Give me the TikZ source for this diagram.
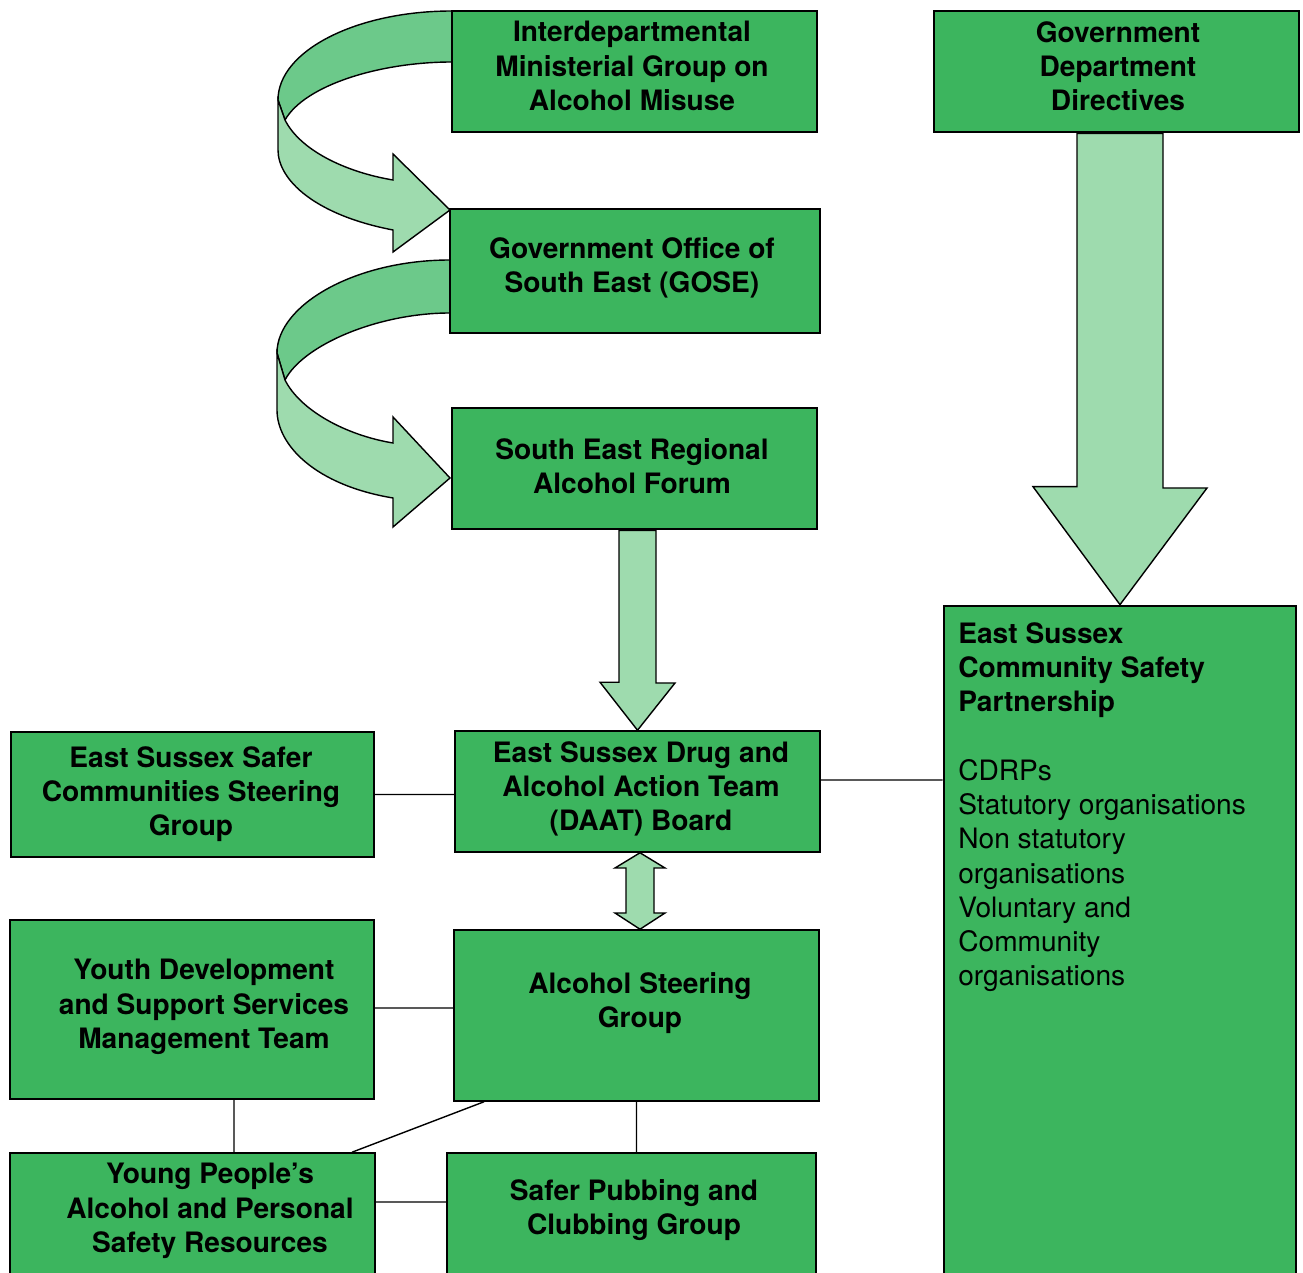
\documentclass[tikz,border=0pt]{standalone}
\usepackage{fontspec}
\setsansfont{TeX Gyre Heros}
\usetikzlibrary{arrows}
\definecolor{boxgreen}{HTML}{3CB55E}
\definecolor{arrowgreen}{HTML}{9EDBAE}
\definecolor{ribbongreen}{HTML}{6CC98A}

\begin{document}
\begin{tikzpicture}[x=0.02cm,y=-0.02cm,
                    font=\sffamily\bfseries\fontsize{16}{19.5}\selectfont]
  \tikzstyle{box}=[rectangle,draw=black,fill=boxgreen,line width=0.9pt,align=center,inner sep=0pt]
  \tikzstyle{heavy}=[box,line width=1.6pt]
  \tikzstyle{caption}=[align=center,inner sep=0pt]
  \tikzstyle{link}=[draw=black,line width=0.8pt]
  \tikzstyle{block}=[draw=black,fill=arrowgreen,line width=0.8pt,line join=miter]
  \tikzstyle{back}=[draw=black,fill=ribbongreen,line width=0.8pt]

  \path[use as bounding box,clip] (0,0) rectangle (1303,1273);

  % curved ribbons on the left
  \draw[back]  (452,11) .. controls (356,11) and (278,51) .. (278,100) -- (285,120)
               .. controls (305,85) and (380,62) .. (452,62) -- cycle;
  \draw[block] (278,100) -- (278,150) .. controls (278,180) and (315,215) .. (393,230)
               -- (393,252) -- (450,210) -- (393,154) -- (393,180)
               .. controls (345,172) and (300,150) .. (285,120) -- cycle;
  \draw[back]  (450,260) .. controls (355,260) and (277,305) .. (277,353) -- (285,380)
               .. controls (303,345) and (378,313) .. (450,313) -- cycle;
  \draw[block] (277,353) -- (277,410) .. controls (277,445) and (315,485) .. (393,498)
               -- (393,527) -- (450,478) -- (393,417) -- (393,443)
               .. controls (345,435) and (300,410) .. (285,380) -- cycle;

  % boxes
  \node[heavy,minimum width=7.30cm,minimum height=2.42cm] (inter)    at (634.5,71.5)  {};
  \node[heavy,minimum width=7.40cm,minimum height=2.48cm] (gose)     at (635,271)     {};
  \node[heavy,minimum width=7.30cm,minimum height=2.42cm] (sera)     at (634.5,468.5) {};
  \node[heavy,minimum width=7.30cm,minimum height=2.42cm] (gdd)      at (1116.5,71.5) {};
  \node[heavy,minimum width=7.04cm,minimum height=14.28cm] (escsp)   at (1120,963)    {};
  \node[box,minimum width=7.30cm,minimum height=2.42cm]   (daat)     at (637.5,791.5) {};
  \node[box,minimum width=7.26cm,minimum height=2.50cm]   (safer)    at (192.5,794.5) {};
  \node[box,minimum width=7.28cm,minimum height=3.58cm]   (youth)    at (192,1009.5)  {};
  \node[box,minimum width=7.30cm,minimum height=3.42cm]   (alcsteer) at (636.5,1015.5) {};
  \node[box,minimum width=7.30cm,minimum height=3.34cm]   (young)    at (192.5,1236.5) {};
  \node[box,minimum width=7.38cm,minimum height=3.34cm]   (pubbing)  at (631.5,1236.5) {};

  % texts
  \node[caption] (intertxt)    at (632,66)    {Interdepartmental\\Ministerial Group on\\Alcohol Misuse};
  \node[caption] (gosetxt)     at (632,268)   {Government Office of\\South East (GOSE)};
  \node[caption] (seratxt)     at (632,466)   {South East Regional\\Alcohol Forum};
  \node[caption] (gddtxt)      at (1118,66)   {Government\\Department\\Directives};
  \node[caption] (daattxt)     at (641,789)   {East Sussex Drug and\\Alcohol Action Team\\(DAAT) Board};
  \node[caption] (safertxt)    at (191,794)   {East Sussex Safer\\Communities Steering\\Group};
  \node[caption] (youthtxt)    at (204,1007)  {Youth Development\\and Support Services\\Management Team};
  \node[caption] (alcsteertxt) at (640,1003)  {Alcohol Steering\\Group};
  \node[caption] (youngtxt)    at (210,1211)  {Young People’s\\Alcohol and Personal\\Safety Resources};
  \node[caption] (pubbingtxt)  at (634,1210)  {Safer Pubbing and\\Clubbing Group};
  \node[caption,align=left,anchor=north west,font=\sffamily\mdseries\fontsize{16}{19.5}\selectfont] (escsptxt) at (958,622)
       {\textbf{East Sussex}\\\textbf{Community Safety}\\\textbf{Partnership}\\[19.5pt]CDRPs\\Statutory organisations\\Non statutory\\organisations\\Voluntary and\\Community\\organisations};

  % block arrows
  \draw[block] (daat.north) -- ++(-37.5,-48) -- ++(19,0) -- (619,0 |- sera.south)
               -- (656,0 |- sera.south) -- (656,683) -- (675,683) -- cycle;
  \draw[block] (escsp.north) -- ++(-87,-118) -- ++(44,0) -- (1077,0 |- gdd.south)
               -- (1163,0 |- gdd.south) -- (1163,488) -- (1207,488) -- cycle;
  \draw[block] (640,0 |- daat.south) -- (665,868) -- (654,868) -- (654,913) -- (665,913)
               -- (640,0 |- alcsteer.north) -- (615,913) -- (626,913) -- (626,868) -- (615,868) -- cycle;

  % plain links
  \path[link] (safer.east) -- (safer.east -| daat.west)
              (daat.east |- 0,780) -- (escsp.west |- 0,780)
              (youth.east |- 0,1008) -- (alcsteer.west |- 0,1008)
              (234,0 |- youth.south) -- (234,0 |- young.north)
              (484,0 |- alcsteer.south) -- (352,0 |- young.north)
              (alcsteer.south) -- (alcsteer.south |- pubbing.north)
              (young.east |- 0,1202) -- (pubbing.west |- 0,1202);
\end{tikzpicture}
\end{document}
